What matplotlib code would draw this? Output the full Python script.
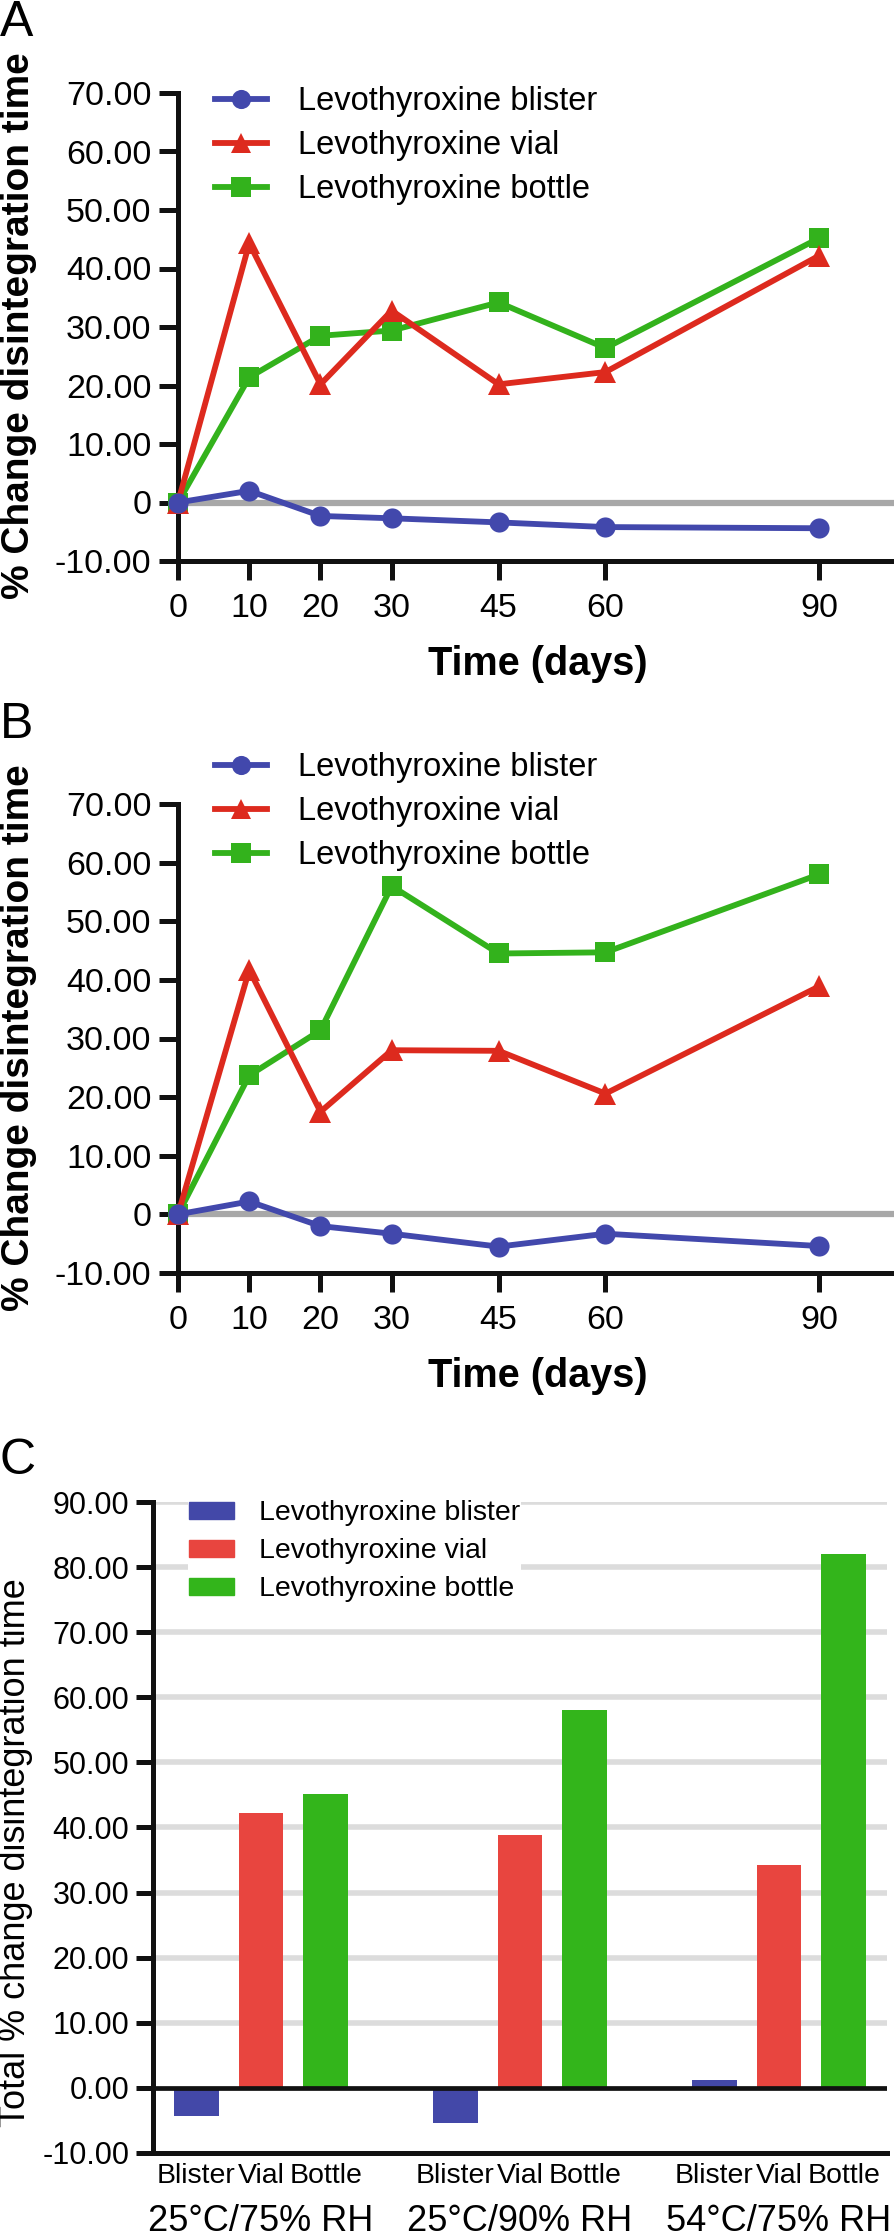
import matplotlib
matplotlib.use('Agg')
import matplotlib.pyplot as plt
from matplotlib.lines import Line2D
from matplotlib.patches import Patch

plt.rcParams['font.family'] = ['Liberation Sans', 'DejaVu Sans']

# ---------------- data ----------------
days = [0, 10, 20, 30, 45, 60, 90]
series_names = ['Levothyroxine blister', 'Levothyroxine vial', 'Levothyroxine bottle']

a_blister = [0, 2.0, -2.3, -2.7, -3.4, -4.2, -4.4]
a_vial = [0, 44.3, 20.2, 32.8, 20.2, 22.3, 42.2]
a_bottle = [0, 21.4, 28.5, 29.4, 34.2, 26.4, 45.2]

b_blister = [0, 2.2, -2.0, -3.3, -5.5, -3.3, -5.4]
b_vial = [0, 41.7, 17.5, 28.0, 27.9, 20.6, 38.9]
b_bottle = [0, 23.7, 31.4, 56.0, 44.5, 44.7, 58.0]

yticks_ab = [-10, 0, 10, 20, 30, 40, 50, 60, 70]
ytick_labels_ab = ['-10.00', '0', '10.00', '20.00', '30.00', '40.00', '50.00', '60.00', '70.00']

conditions = ['25°C/75% RH', '25°C/90% RH', '54°C/75% RH']
packages = ['Blister', 'Vial', 'Bottle']
c_blister = [-4.3, -5.4, 1.2]
c_vial = [42.3, 38.9, 34.3]
c_bottle = [45.1, 58.0, 82.0]

yticks_c = [-10, 0, 10, 20, 30, 40, 50, 60, 70, 80, 90]
ytick_labels_c = ['-10.00', '0.00', '10.00', '20.00', '30.00', '40.00', '50.00',
                  '60.00', '70.00', '80.00', '90.00']

# ---------------- style ----------------
W, H = 894, 2236
fig = plt.figure(figsize=(W / 100, H / 100), dpi=100)

BLUE = '#4248AC'
RED = '#DD2A1E'
GREEN = '#33B21C'
BAR_BLUE = '#4348A8'
BAR_RED = '#E8453F'
BAR_GREEN = '#33B51B'
SPINE_W = 3.6


def axes_px(left, top, right, bottom):
    return fig.add_axes([left / W, 1 - bottom / H, (right - left) / W, (bottom - top) / H])


def line_panel(top, bottom, blister, vial, bottle, legend_top, xlabel_base, ylabel_cy, letter, letter_top):
    ax = axes_px(178, top, 894, bottom)
    ax.axhline(0, color='#A8A8A8', lw=4.5, zorder=1)
    specs = [(blister, BLUE, 'o', 14.5, 6), (vial, RED, '^', 15.5, 5), (bottle, GREEN, 's', 14.5, 4)]
    handles = []
    for vals, col, mk, ms, z in specs:
        ax.plot(days, vals, color=col, lw=4.2, marker=mk, markersize=ms,
                markeredgewidth=0, zorder=z, clip_on=False)
        handles.append(Line2D([], [], color=col, lw=4.2, marker=mk, markersize=ms * 0.95,
                              markeredgewidth=0))
    ax.set_xlim(0, 100.5)
    ax.set_ylim(-10, 70)
    ax.set_xticks(days)
    ax.set_xticklabels([str(d) for d in days])
    ax.set_yticks(yticks_ab)
    ax.set_yticklabels(ytick_labels_ab)
    for s in ['top', 'right']:
        ax.spines[s].set_visible(False)
    for s in ['left', 'bottom']:
        ax.spines[s].set_linewidth(SPINE_W)
        ax.spines[s].set_color('#111111')
    ax.tick_params(axis='both', direction='out', length=14, width=SPINE_W,
                   color='#111111', labelsize=24.5)
    ax.tick_params(axis='x', pad=9)
    ax.tick_params(axis='y', pad=5)
    ax.legend(handles, series_names, loc='upper left',
              bbox_to_anchor=(215 / W, 1 - legend_top / H), bbox_transform=fig.transFigure,
              frameon=False, fontsize=23.5, handlelength=1.58, handletextpad=0.95,
              labelspacing=0.4, borderpad=0, borderaxespad=0, numpoints=1)
    fig.text(538 / W, 1 - xlabel_base / H, 'Time (days)', fontsize=28.5, fontweight='bold',
             ha='center', va='baseline')
    fig.text(19 / W, 1 - ylabel_cy / H, '% Change disintegration time', fontsize=28,
             fontweight='bold', rotation=90, ha='center', va='center')
    fig.text(0, 1 - letter_top / H, letter, fontsize=36, ha='left', va='top')
    return ax


line_panel(93, 561, a_blister, a_vial, a_bottle, 86, 675, 326, 'A', 0)
line_panel(804, 1273, b_blister, b_vial, b_bottle, 752, 1387, 1038, 'B', 702)

# ---------------- panel C ----------------
axc = axes_px(153, 1502, 887, 2153)
ng = len(conditions)
pos_blister = [4 * g + 0 for g in range(ng)]
pos_vial = [4 * g + 1 for g in range(ng)]
pos_bottle = [4 * g + 2 for g in range(ng)]
bw = 0.69
axc.bar(pos_blister, c_blister, width=bw, color=BAR_BLUE, zorder=2, label=series_names[0])
axc.bar(pos_vial, c_vial, width=bw, color=BAR_RED, zorder=2, label=series_names[1])
axc.bar(pos_bottle, c_bottle, width=bw, color=BAR_GREEN, zorder=2, label=series_names[2])
axc.set_xlim(-0.667, 10.667)
axc.set_ylim(-10, 90)
axc.set_yticks(yticks_c)
axc.set_yticklabels(ytick_labels_c)
for y in yticks_c:
    if y not in (0, -10):
        axc.axhline(y, color='#DCDCDC', lw=4.0, zorder=0)
axc.axhline(0, color='#111111', lw=3.4, zorder=3)
xt = sorted(pos_blister + pos_vial + pos_bottle)
axc.set_xticks(xt)
axc.set_xticklabels(packages * ng)
for s in ['top', 'right']:
    axc.spines[s].set_visible(False)
for s in ['left', 'bottom']:
    axc.spines[s].set_linewidth(SPINE_W)
    axc.spines[s].set_color('#111111')
axc.tick_params(axis='y', direction='out', length=12, width=SPINE_W, color='#111111',
                labelsize=22, pad=5)
axc.tick_params(axis='x', length=0, labelsize=20.5, pad=7)
for g, cond in enumerate(conditions):
    axc.annotate(cond, xy=(pos_vial[g], 0), xycoords=('data', 'axes fraction'),
                 xytext=(0, -56), textcoords='offset points', ha='center', va='baseline',
                 fontsize=26)
legc = axc.legend(handles=[Patch(color=BAR_BLUE), Patch(color=BAR_RED), Patch(color=BAR_GREEN)],
                  labels=series_names, loc='upper left',
                  bbox_to_anchor=(188 / W, 1 - 1499 / H), bbox_transform=fig.transFigure,
                  frameon=True, facecolor='white', edgecolor='none', framealpha=1,
                  fontsize=20.5, handlelength=1.55, handleheight=0.52, handletextpad=0.88,
                  labelspacing=0.42, borderpad=0.05, borderaxespad=0, fancybox=False)
legc.set_zorder(5)
fig.text(16 / W, 1 - 1853 / H, 'Total % change disintegration time', fontsize=26,
         rotation=90, ha='center', va='center')
fig.text(0, 1 - 1438 / H, 'C', fontsize=36, ha='left', va='top')

fig.savefig('out.png', dpi=100)
